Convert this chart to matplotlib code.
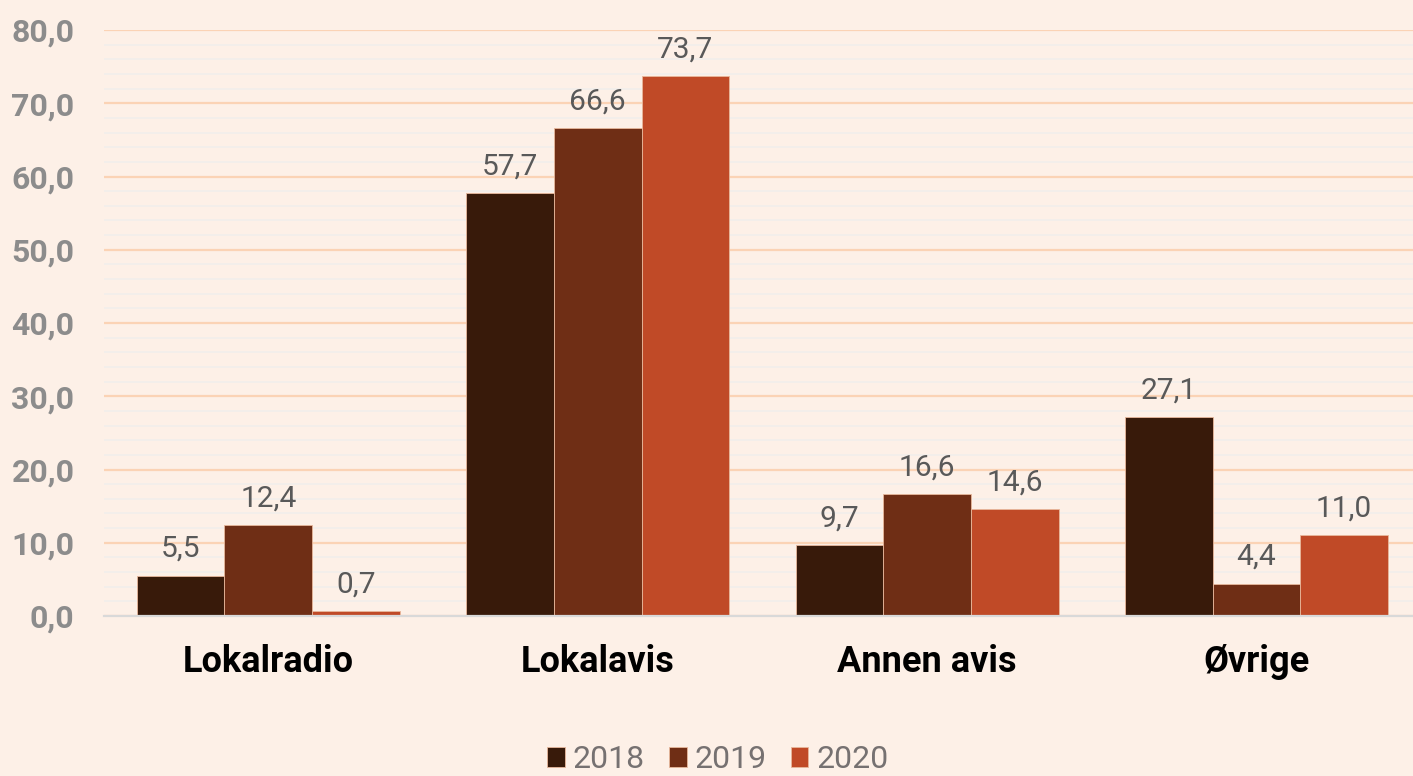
import matplotlib.pyplot as plt
import numpy as np
from matplotlib.ticker import MultipleLocator, FuncFormatter

categories = ["Lokalradio", "Lokalavis", "Annen avis", "Øvrige"]
years = ["2018", "2019", "2020"]
v2018 = [5.5, 57.7, 9.7, 27.1]
v2019 = [12.4, 66.6, 16.6, 4.4]
v2020 = [0.7, 73.7, 14.6, 11.0]
colors = ["#381a0a", "#6f2e15", "#c04a27"]

plt.rcParams["font.family"] = ["Roboto", "DejaVu Sans"]
bg = "#fdf0e7"

fig = plt.figure(figsize=(14.13, 7.76), dpi=100, facecolor=bg)
ax = fig.add_axes([103.6 / 1413, 160 / 776, (1413 - 103.6) / 1413, 586 / 776])
ax.set_facecolor(bg)

x = np.arange(len(categories))
w = 0.266
for i, (vals, c) in enumerate(zip([v2018, v2019, v2020], colors)):
    bars = ax.bar(x + (i - 1) * w, vals, w, color=c, edgecolor="#e8b89c",
                  linewidth=0.6, label=years[i], zorder=3)
    for b, v in zip(bars, vals):
        ax.annotate(f"{v:.1f}".replace(".", ","),
                    (b.get_x() + b.get_width() / 2, v),
                    xytext=(0, 13.5), textcoords="offset points",
                    ha="center", va="baseline", fontsize=21.5, color="#595959")

ax.set_xlim(-0.5, (1413 - 103.6) / 329.4 - 0.5)
ax.set_ylim(0, 80)
ax.yaxis.set_major_locator(MultipleLocator(10))
ax.yaxis.set_minor_locator(MultipleLocator(2))
ax.yaxis.set_major_formatter(FuncFormatter(lambda v, p: f"{v:.1f}".replace(".", ",")))
ax.grid(axis="y", which="major", color="#fbd3b5", linewidth=1.6, zorder=1)
ax.grid(axis="y", which="minor", color="#f3eeeb", linewidth=1.4, zorder=1)

for s in ["top", "right", "left"]:
    ax.spines[s].set_visible(False)
ax.spines["bottom"].set_color("#d9d9d9")
ax.spines["bottom"].set_linewidth(1.6)
ax.spines["bottom"].set_zorder(4)

ax.tick_params(axis="y", which="both", length=0, pad=21, labelsize=23,
               labelcolor="#8c8c8c")
for t in ax.get_yticklabels():
    t.set_fontweight("bold")
ax.set_xticks(x)
ax.set_xticklabels(categories, fontsize=26, fontweight="bold", color="black")
ax.tick_params(axis="x", length=0, pad=20)

leg = ax.legend(loc="center", bbox_to_anchor=(0.469, -0.245),
                bbox_transform=ax.transAxes, ncol=3, frameon=False,
                fontsize=23, labelcolor="#767171", handlelength=0.56,
                handleheight=0.56, handletextpad=0.25, columnspacing=0.75,
                borderpad=0)

fig.savefig("out.png", dpi=100, facecolor=bg)
